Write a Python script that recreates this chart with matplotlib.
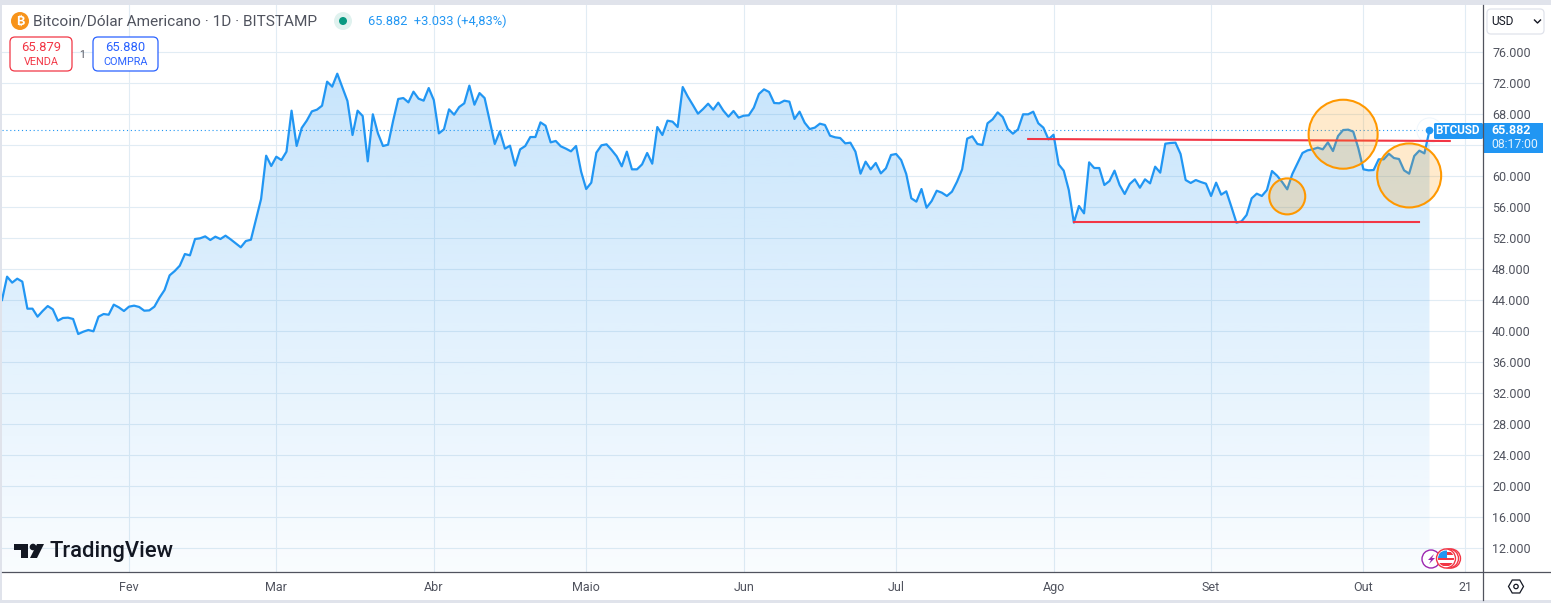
# BTCUSD daily chart, TradingView style
import numpy as np
import pandas as pd
import matplotlib
matplotlib.use('Agg')
import matplotlib.pyplot as plt
import matplotlib.dates as mdates
import matplotlib.ticker as mtick
from matplotlib.patches import Circle, FancyBboxPatch, Polygon, Rectangle, RegularPolygon

# data
first_day = '2024-01-07'
prices = [
    44000, 47010, 46240, 46750, 46370, 42880, 42880, 41850, 42580, 43220,
    42800, 41330, 41680, 41720, 41550, 39610, 39910, 40130, 39960, 41850,
    42190, 42100, 43400, 43050, 42580, 43140, 43270, 43100, 42620, 42660,
    43140, 44300, 45290, 47180, 47740, 48430, 49930, 49760, 51870, 51960,
    52210, 51740, 52170, 51870, 52300, 51830, 51310, 50800, 51610, 51780,
    54410, 57030, 62620, 61290, 62490, 62060, 63140, 68430, 63880, 66200,
    67150, 68340, 68560, 69070, 72170, 71530, 73200, 71440, 69680, 65290,
    68430, 67740, 61890, 67960, 65500, 63870, 64040, 67140, 69940, 70060,
    69500, 70880, 69980, 69720, 71350, 69800, 65500, 66020, 68600, 67910,
    68900, 69380, 71660, 69200, 70700, 70060, 67140, 64130, 65760, 63530,
    63910, 61340, 63440, 63870, 65030, 65030, 66920, 66490, 64340, 64520,
    63830, 63530, 63180, 63870, 60560, 58320, 59140, 63010, 63960, 64090,
    63360, 62540, 61250, 63140, 60860, 60860, 61500, 62970, 61590, 66320,
    65290, 67140, 67010, 66320, 71480, 70240, 69160, 68040, 68640, 69330,
    68560, 69460, 68430, 67650, 68390, 67530, 67780, 67830, 68820, 70580,
    71180, 70840, 69420, 69380, 69720, 69590, 67360, 68300, 66880, 66060,
    66240, 66750, 66580, 65200, 64990, 64900, 64210, 64300, 63140, 60300,
    61850, 60860, 61680, 60340, 60990, 62710, 62840, 62060, 60260, 57120,
    56690, 58320, 55910, 56770, 58100, 57850, 57420, 57980, 59270, 60860,
    64820, 65120, 64130, 64000, 66800, 67310, 68210, 67610, 66060, 65460,
    66020, 67960, 67960, 68300, 66800, 66236, 64730, 65330, 61500, 60690,
    58190, 53980, 56130, 55180, 61760, 61030, 61030, 58840, 59350, 60690,
    58840, 57680, 58970, 59570, 58490, 59570, 59050, 61200, 60430, 64170,
    64260, 64300, 62840, 59480, 59100, 59480, 59220, 59010, 57420, 59140,
    57590, 58020, 56040, 53980, 54150, 54970, 57120, 57720, 57420, 58190,
    60640, 60040, 59220, 58280, 60260, 61630, 62970, 63310, 63440, 63660,
    63440, 64340, 63220, 65160, 65930, 65980, 65720, 63570, 60860, 60730,
    60770, 62150, 62150, 62880, 62320, 62190, 60730, 60300, 62580, 63270,
    62920, 65882,
]
month_ticks = ['2024-02-01', '2024-03-01', '2024-04-01', '2024-05-01', '2024-06-01',
               '2024-07-01', '2024-08-01', '2024-09-01', '2024-10-01', '2024-10-21']
month_labels = ['Fev', 'Mar', 'Abr', 'Maio', 'Jun', 'Jul', 'Ago', 'Set', 'Out', '21']
price_ticks = list(range(12000, 80000, 4000))
hidden_tick = 64000  # sits behind the price label
last_price = 65882

# drawn lines and circles
resistance_days = ['2024-07-27', '2024-10-18']
resistance_prices = [64774, 64516]
support_days = ['2024-08-05', '2024-10-12']
support_prices = [54000, 54000]
circle_days = ['2024-09-16', '2024-09-27', '2024-10-10']
circle_prices = [57370, 65390, 60070]
circle_radius_px = [18, 34.5, 32]

blue = '#2196f3'
red = '#f23645'
orange = '#ff9800'
text_grey = '#50535e'
frame = '#e0e3eb'
axis_line = '#50535e'
grid_colour = '#e1ecf4'

W, H = 1551, 603
plt.rcParams['font.family'] = ['Roboto', 'DejaVu Sans']
fig = plt.figure(figsize=(W / 100, H / 100), dpi=100, facecolor='white')
ax = fig.add_axes([2 / W, (H - 572) / H, (1483 - 2) / W, (572 - 5) / H])

days = pd.date_range(first_day, periods=len(prices))
xnum = mdates.date2num(days)

# pixel calibration: Feb 1 at x=129, 5.08 px per day; 12000 at y=548, 4000 per 31 px
feb1 = mdates.date2num(pd.Timestamp('2024-02-01'))
xlim = (feb1 + (2 - 129) / 5.08, feb1 + (1483 - 129) / 5.08)
ylim = (12000 - (572 - 548) * 4000 / 31, 12000 + (548 - 5) * 4000 / 31)


def tick_text(v, pos):
    if int(v) == hidden_tick:
        return ''
    return f'{int(v):,}'.replace(',', '.')


# gradient area below the line
poly = ax.fill_between(xnum, prices, ylim[0], color='none', linewidth=0)
alpha = np.linspace(0.25, 0.025, 256).reshape(-1, 1)
grad = np.ones((256, 1, 4))
grad[..., :3] = matplotlib.colors.to_rgb(blue)
grad[..., 3] = alpha
im = ax.imshow(grad, aspect='auto', extent=(xnum[0], xnum[-1], ylim[0], max(prices)),
               origin='upper', zorder=1, interpolation='bilinear')
im.set_clip_path(poly.get_paths()[0], transform=ax.transData)

ax.plot(xnum, prices, color=blue, linewidth=1.6, zorder=3, solid_joinstyle='round')
ax.axhline(last_price, color=blue, linewidth=0.8, linestyle=(0, (1, 2.5)), zorder=2)

# last value marker
ax.scatter(xnum[-1], last_price, s=330, facecolor='white', edgecolor='#e3f0fb', linewidth=0.7, alpha=0.6, zorder=2.5)
ax.scatter(xnum[-1], last_price, s=20, color=blue, zorder=4)

# drawings
ax.plot(mdates.date2num(pd.to_datetime(resistance_days)), resistance_prices, color=red, linewidth=1.5, zorder=5)
ax.plot(mdates.date2num(pd.to_datetime(support_days)), support_prices, color=red, linewidth=1.5, zorder=5)
sizes = [(2 * r * 0.72) ** 2 for r in circle_radius_px]
ax.scatter(mdates.date2num(pd.to_datetime(circle_days)), circle_prices, s=sizes,
           facecolor=(1, 0.596, 0, 0.2), edgecolor=orange, linewidth=1.5, zorder=6)

ax.set_xlim(xlim)
ax.set_ylim(ylim)
ax.set_xticks(mdates.date2num(pd.to_datetime(month_ticks)))
ax.set_xticklabels(month_labels)
ax.set_yticks(price_ticks)
ax.yaxis.set_major_formatter(mtick.FuncFormatter(tick_text))
ax.yaxis.tick_right()
ax.tick_params(axis='y', length=0, pad=6.5, labelsize=9, labelcolor=text_grey)
ax.tick_params(axis='x', length=0, pad=6.5, labelsize=9, labelcolor=text_grey)
ax.grid(True, color=grid_colour, linewidth=0.8, zorder=0)
ax.set_axisbelow(True)
for s in ax.spines.values():
    s.set_visible(False)

# interface chrome, in pixels
ui = fig.add_axes([0, 0, 1, 1], facecolor='none')
ui.set_xlim(0, W)
ui.set_ylim(H, 0)
ui.axis('off')

ui.add_patch(Rectangle((0, 0), W, 5, color=frame, lw=0))
ui.add_patch(Rectangle((0, 0), 2, H, color=frame, lw=0))
ui.add_patch(Rectangle((0, 600), W, 3, color=frame, lw=0))
ui.plot([1483, 1483], [5, 600], color=axis_line, lw=0.9)
ui.plot([2, W], [572, 572], color=axis_line, lw=0.9)

# header
ui.add_patch(Circle((20, 21), 9, color='#f7931a', lw=0))
ui.text(20, 21.5, '₿', color='white', fontsize=9, fontweight='bold', ha='center', va='center',
        family=['Inter', 'Noto Sans', 'Open Sans', 'Lato', 'DejaVu Sans'])
ui.text(33, 21.5, 'Bitcoin/Dólar Americano · 1D · BITSTAMP', color=text_grey, fontsize=11.1, va='center')
ui.add_patch(Circle((343, 21), 9, color='#e0f2ef', lw=0))
ui.add_patch(Circle((343, 21), 4, color='#089981', lw=0))
ui.text(368, 21.5, '65.882  +3.033 (+4,83%)', color=blue, fontsize=9.3, va='center')

# sell and buy boxes
for x0, x1, col, price, word in [(10, 72, red, '65.879', 'VENDA'), (93, 158, '#2962ff', '65.880', 'COMPRA')]:
    ui.add_patch(FancyBboxPatch((x0 + 3, 40), x1 - x0 - 6, 28, boxstyle='round,pad=3,rounding_size=5',
                                facecolor='white', edgecolor=col, lw=0.9))
    ui.text((x0 + x1) / 2, 47.5, price, color=col, fontsize=9.4, ha='center', va='center')
    ui.text((x0 + x1) / 2, 62, word, color=col, fontsize=7.8, ha='center', va='center')
ui.text(82, 54.5, '1', color=text_grey, fontsize=7.5, ha='center', va='center')

# currency button
ui.add_patch(FancyBboxPatch((1490, 12), 51, 19, boxstyle='round,pad=3,rounding_size=4',
                            facecolor='white', edgecolor=frame, lw=0.9))
ui.text(1491, 21.5, 'USD', color='#131722', fontsize=8.6, va='center')
ui.plot([1534.5, 1537.5, 1540.5], [20, 23, 20], color='#131722', lw=1)

# price labels
ui.add_patch(FancyBboxPatch((1434, 123), 49, 16, boxstyle='round,pad=0,rounding_size=1.5', color=blue, lw=0))
ui.text(1458, 131, 'BTCUSD', color='white', fontsize=8.4, fontweight='bold', ha='center', va='center')
ui.add_patch(Rectangle((1483, 122.5), 60, 30.5, color=blue, lw=0))
ui.text(1491, 130.5, '65.882', color='white', fontsize=9, fontweight='bold', va='center')
ui.text(1491, 144.5, '08:17:00', color='#e3f2fd', fontsize=8.8, va='center')

# TradingView logo
logo = '#131722'
ui.add_patch(Polygon([(14, 544), (28, 544), (28, 558), (21, 558), (21, 550), (14, 550)], color=logo, lw=0))
ui.add_patch(Circle((33, 547), 3.3, color=logo, lw=0))
ui.add_patch(Polygon([(37, 544), (44, 544), (37, 558), (30, 558)], color=logo, lw=0))
ui.text(50, 552, 'TradingView', color=logo, fontsize=15.8, fontweight='medium', va='center')

# event icons
ui.add_patch(Circle((1431, 559), 9, facecolor='white', edgecolor='#9c27b0', lw=1))
ui.add_patch(Polygon([(1434, 554), (1428, 560), (1431, 560), (1429, 564), (1435, 558), (1432, 558)], color='#9c27b0', lw=0))
for cx in [1451, 1449]:
    ui.add_patch(Circle((cx, 558.5), 9.5, facecolor='white', edgecolor=red, lw=1))
ui.add_patch(Circle((1446, 558.5), 9.5, facecolor='white', edgecolor=red, lw=1))
disc = Circle((1446, 558.5), 8, facecolor='white', lw=0)
ui.add_patch(disc)
for yy in [552, 557.5, 563]:
    stripe = Rectangle((1437, yy), 18, 2.7, color=red, lw=0)
    ui.add_patch(stripe)
    stripe.set_clip_path(disc)
canton = Rectangle((1437, 550), 9.5, 8, color='#2196f3', lw=0)
ui.add_patch(canton)
canton.set_clip_path(disc)

# settings icon
ui.add_patch(RegularPolygon((1516, 586.5), 6, radius=7.5, orientation=np.pi / 2, facecolor='none', edgecolor='#131722', lw=0.9))
ui.add_patch(Circle((1516, 586.5), 2.2, facecolor='none', edgecolor='#131722', lw=0.9))

fig.savefig('out.png', dpi=100)
